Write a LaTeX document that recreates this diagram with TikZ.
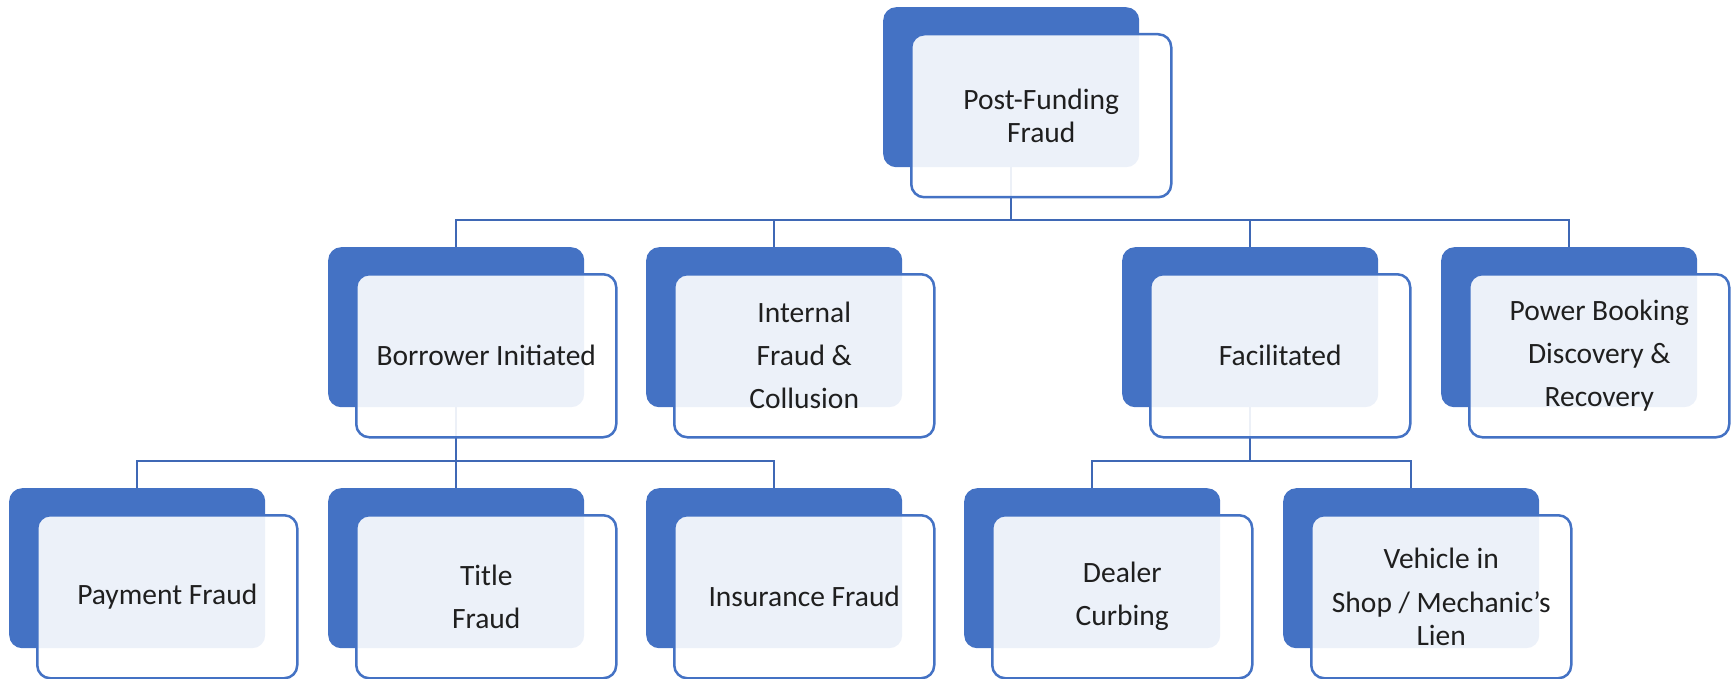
\documentclass[tikz,border=0pt]{standalone}
\usepackage{fontspec}
\setmainfont{Carlito}
\usetikzlibrary{backgrounds}
\definecolor{accent}{HTML}{4472C4}
\definecolor{connc}{HTML}{3F68B5}
\definecolor{txt}{HTML}{1F1F1F}
\tikzset{
  backbox/.style={fill=accent, rounded corners=13pt, minimum width=256pt, minimum height=160pt, inner sep=0pt, anchor=north west},
  frontbox/.style={draw=accent, line width=2.5pt, fill=white, fill opacity=0.9, text opacity=1, rounded corners=13pt,
    minimum width=260pt, minimum height=163pt, inner sep=0pt, anchor=north west, align=center, text=txt,
    font=\fontsize{29.5}{43}\selectfont},
  tight/.style={font=\fontsize{29.5}{33}\selectfont},
  conn/.style={draw=connc, line width=2.5pt},
}
\newcommand\orgnode[5][]{%
  \node[backbox] (#2B) at (#3,#4) {};
  \node[frontbox,#1] (#2) at ({#3+27},{#4+26}) {#5};
}
\begin{document}
\begin{tikzpicture}[x=1pt,y=-1pt]
\useasboundingbox (0,0) rectangle (1734,679);
\coordinate (bar1) at (0,220);
\coordinate (bar2) at (0,461);

\orgnode[tight]{top}{883}{7}{Post-Funding\\Fraud}

\orgnode{bor}{328}{247}{Borrower Initiated}
\orgnode{int}{646}{247}{Internal\\Fraud \&\\Collusion}
\orgnode{fac}{1122}{247}{Facilitated}
\orgnode{pow}{1441}{247}{Power Booking\\Discovery \&\\Recovery}

\orgnode{pay}{9}{488}{Payment Fraud}
\orgnode{tit}{328}{488}{Title\\Fraud}
\orgnode{ins}{646}{488}{Insurance Fraud}
\orgnode{dea}{964}{488}{Dealer\\Curbing}
\orgnode[tight]{veh}{1283}{488}{Vehicle in\\[11pt]Shop / Mechanic’s\\Lien}

\begin{scope}[on background layer]
  \draw[conn] (topB.south) -- (topB.south |- bar1) -| (borB.north);
  \draw[conn] (topB.south) -- (topB.south |- bar1) -| (intB.north);
  \draw[conn] (topB.south) -- (topB.south |- bar1) -| (facB.north);
  \draw[conn] (topB.south) -- (topB.south |- bar1) -| (powB.north);
  \draw[conn] (borB.south) -- (borB.south |- bar2) -| (payB.north);
  \draw[conn] (borB.south) -- (borB.south |- bar2) -| (titB.north);
  \draw[conn] (borB.south) -- (borB.south |- bar2) -| (insB.north);
  \draw[conn] (facB.south) -- (facB.south |- bar2) -| (deaB.north);
  \draw[conn] (facB.south) -- (facB.south |- bar2) -| (vehB.north);
\end{scope}
\end{tikzpicture}
\end{document}
